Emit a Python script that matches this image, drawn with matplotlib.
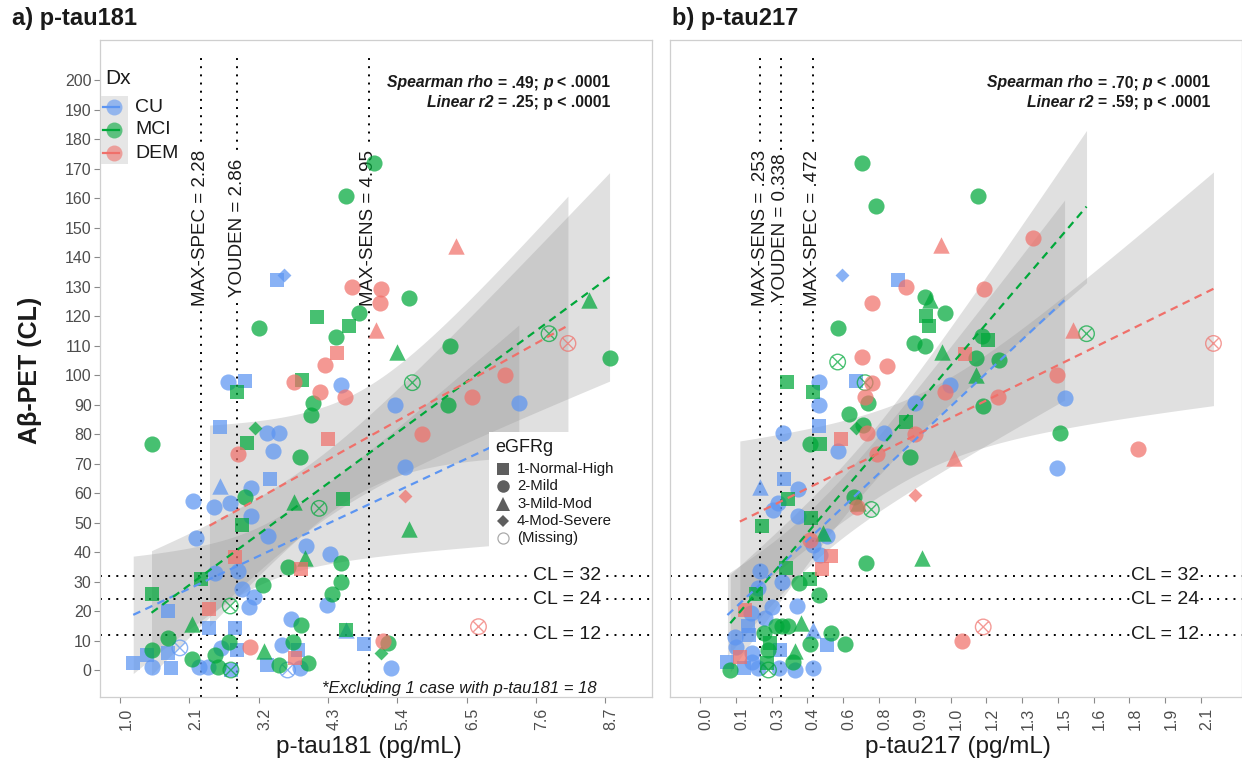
import matplotlib
matplotlib.use("Agg")
import matplotlib.pyplot as plt
import numpy as np
from matplotlib.lines import Line2D
from matplotlib.path import Path
from matplotlib.patches import Rectangle
from matplotlib.transforms import offset_copy, ScaledTranslation

plt.rcParams.update({"font.family": "Liberation Sans"})

# ---------------- data ----------------
CL_TICKS = list(range(0, 201, 10))
CL_CUTS = [12, 24, 32]
GROUPS = ["CU", "MCI", "DEM"]
GROUP_CODES = {"C": "CU", "M": "MCI", "D": "DEM"}
EGFR_LABELS = ["1-Normal-High", "2-Mild", "3-Mild-Mod", "4-Mod-Severe", "(Missing)"]

# panel a) p-tau181
T181_TICKS = [1.0, 2.1, 3.2, 4.3, 5.4, 6.5, 7.6, 8.7]
T181_CUTS = [2.28, 2.86, 4.95]
T181_CUT_LABELS = ["MAX-SPEC = 2.28", "YOUDEN = 2.86", "MAX-SENS = 4.95"]
T181_STATS = (".49", ".25")
t181_x = [5.03, 4.59, 6.33, 3.49, 3.60, 4.69, 5.14, 5.12, 5.58, 4.79,
          4.12, 4.63, 5.06, 3.21, 4.43, 4.44, 4.26, 5.39, 6.24, 8.44,
          7.81, 8.11, 8.77, 2.72, 2.98, 2.86, 3.76, 3.89, 4.18, 4.51,
          4.57, 4.07, 4.03, 5.64, 7.11, 6.58, 6.20, 5.36, 7.33, 5.79,
          2.58, 3.15, 3.34, 3.52, 1.50, 3.02, 4.30, 2.87, 3.43, 3.85,
          5.53, 5.53, 2.58, 3.38, 3.08, 2.98, 2.16, 2.49, 2.75, 3.08,
          3.76, 4.16, 4.54, 5.59, 2.93, 3.35, 2.21, 3.96, 2.82, 3.93,
          4.33, 4.51, 3.66, 3.88, 2.87, 2.51, 2.28, 4.51, 3.27, 2.93,
          4.37, 3.12, 1.51, 4.29, 3.04, 2.75, 2.42, 1.76, 2.14, 3.71,
          3.88, 2.41, 2.82, 4.59, 4.59, 4.88, 5.17, 5.26, 5.14, 5.30,
          1.76, 1.51, 1.43, 1.95, 1.21, 1.51, 1.81, 1.76, 2.14, 2.25,
          2.39, 2.50, 2.61, 2.73, 2.76, 2.55, 2.86, 3.06, 3.28, 3.57,
          3.75, 3.82, 3.78, 3.33, 3.52, 3.85, 3.99, 3.66, 2.76, 6.69]
t181_cl = [172, 160.8, 143.8, 132.2, 133.9, 129.9, 129, 124.3, 126, 120.9,
           119.6, 116.7, 115.3, 116, 113, 107.4, 103.4, 107.9, 110, 125.4,
           114, 110.7, 105.6, 97.7, 97.9, 94.3, 97.5, 98.2, 94.3, 96.6,
           92.4, 90.6, 86.4, 97.4, 100, 92.4, 89.8, 89.8, 90.4, 80,
           82.5, 81.9, 80.2, 80.2, 76.6, 76.9, 78.3, 73.1, 74.2, 72.3,
           68.7, 59, 62.4, 64.6, 61.6, 58.5, 57.3, 55.2, 56.5, 52.2,
           57, 54.8, 57.9, 47.7, 49.2, 45.4, 44.6, 42, 38.4, 37.9,
           39.3, 36.4, 34.8, 34.1, 33.7, 32.8, 30.7, 29.9, 28.8, 27.3,
           25.8, 24.6, 25.8, 22, 21.5, 21.7, 20.6, 19.9, 15.6, 17.2,
           15.3, 14.1, 14.1, 13.4, 13.4, 8.8, 9.9, 9, 5.7, 0.6,
           10.7, 6.8, 5.1, 7.5, 2.3, 1.1, 0.6, 5.7, 3.7, 1.1,
           1.1, 5, 7.3, 9.6, 0, 1, 6.8, 7.9, 6.5, 8.4,
           9.6, 6.8, 4, 1.8, 1.8, 0.6, 2.4, 0, 0, 14.7]
t181_dx = ("M M D C C D D D M M  M M D M M D D M M M  M D M C C M D M D C "
           "D M M M D D M C C D  C M C C M M D D C M  C D C C C M C C C C "
           "M M M M M C C C D M  C M M D C C M M M C  M C M C C M D C M C "
           "M C C M C C D M M C  M M C C C C C C M C  C M C M C M C D M C "
           "M C D C M C M C M D").split()
t181_eg = ("o o ^ s d o o o o o  s s ^ o o s o ^ o ^  x x o o s s o s o o "
           "o o o x o o o o o o  s d o o o s s o o o  o d ^ s o o o o o o "
           "^ x s ^ s o o o s ^  o o o s o o s o o o  o o s o o x s s ^ o "
           "o s s s ^ s o o d o  o o s x s o s s o o  o o o o s o s o ^ o "
           "o s s s o o o x x x").split()

# panel b) p-tau217
T217_TICKS = [0.0, 0.15, 0.30, 0.45, 0.60, 0.75, 0.90, 1.05, 1.20, 1.35,
              1.50, 1.65, 1.80, 1.95, 2.10]
T217_TICK_LABELS = ["0.0", "0.1", "0.3", "0.4", "0.6", "0.8", "0.9", "1.0",
                    "1.2", "1.3", "1.5", "1.6", "1.8", "1.9", "2.1"]
T217_CUTS = [0.253, 0.338, 0.472]
T217_CUT_LABELS = ["MAX-SENS = .253", "YOUDEN = 0.338", "MAX-SPEC = .472"]
T217_STATS = (".70", ".59")
t217_x = [0.677, 0.739, 1.165, 1.01, 1.395, 0.595, 0.83, 0.862, 0.722, 0.944,
          0.962, 1.026, 0.947, 0.96, 0.577, 1.192, 0.895, 0.944, 1.015, 1.11,
          1.18, 1.207, 1.157, 1.252, 0.577, 0.677, 0.785, 1.565, 1.62, 2.152,
          0.366, 0.475, 0.497, 0.497, 0.652, 0.692, 0.722, 0.692, 0.703, 0.625,
          0.682, 0.655, 0.70, 0.77, 0.347, 0.497, 0.592, 0.463, 0.502, 0.58,
          0.862, 0.902, 0.902, 1.027, 1.048, 1.247, 1.185, 1.155, 1.495, 1.528,
          1.507, 1.835, 1.498, 0.742, 0.88, 1.063, 0.902, 0.253, 0.352, 0.41,
          0.37, 0.325, 0.307, 0.412, 0.258, 0.465, 0.647, 0.662, 0.658, 0.718,
          0.517, 0.532, 0.463, 0.472, 0.55, 0.505, 0.695, 0.932, 0.51, 0.25,
          0.362, 0.46, 0.415, 0.343, 0.242, 0.235, 0.497, 0.407, 0.303, 0.187,
          0.273, 0.20, 0.32, 0.345, 0.37, 0.423, 0.475, 0.55, 0.607, 0.532,
          0.46, 0.397, 0.388, 0.475, 0.40, 1.10, 1.187, 0.127, 0.115, 0.183,
          0.22, 0.28, 0.287, 0.292, 0.152, 0.205, 0.145, 0.337, 0.167, 0.22,
          0.242, 0.287, 0.333, 0.268, 0.212]
t217_cl = [172, 157.4, 160.8, 144, 146.3, 133.9, 132.2, 129.9, 124.3, 126.3,
           125.4, 120.9, 120, 116.7, 116, 129, 111, 110, 107.9, 107.2,
           113.2, 112, 105.6, 105, 104.4, 106.2, 103.2, 115.3, 114, 110.7,
           97.7, 94.3, 97.7, 89.8, 97.9, 97.4, 97.2, 92.4, 90.6, 86.7,
           83, 81.9, 80.4, 80.4, 80.2, 82.7, 78.3, 76.6, 76.6, 74.1,
           84.2, 79.9, 90.4, 94.3, 96.6, 92.4, 89.5, 100, 100, 92.1,
           80.2, 74.8, 68.6, 73.2, 72.3, 71.8, 59.3, 62.1, 64.6, 61.2,
           57.9, 56.5, 54.4, 52.2, 48.9, 51.4, 58.5, 56.5, 55.4, 54.4,
           46.5, 45.4, 44.1, 42.5, 38.6, 38.9, 36.4, 38.1, 34.1, 33.7,
           34.5, 30.7, 29.5, 29.8, 27.9, 25.9, 25.4, 21.6, 21.4, 20.3,
           17.5, 14.9, 15, 15, 15, 15.8, 13.7, 12.7, 8.8, 8.5,
           8.8, 6.5, 2.8, 0.6, 0, 10, 14.6, 0, 2.8, 0.6,
           2.8, 2.3, 6.8, 9.2, 7.9, 11.9, 11.3, 6.8, 4.5, 5.7,
           0.6, 0, 0.6, 12.4, 19.4]
t217_dx = ("M M M D D C C D D M  M M M M M D M M M D  M M M M M D D D M D "
           "M M C C C M D D M M  M M D C C C D M M C  M D C D C D M M D C "
           "M D C D M D D C C C  M C C C M M M M D M  M C D C D C M M D C "
           "M M M C C M M C C D  C C M M M M C M M C  M M M C C D D M C C "
           "C M M M C C C C D C  C M C M C").split()
t217_eg = ("o o o ^ o d s o o o  ^ o s s o o o o ^ s  o s o o x o o ^ x x "
           "s s o o s x o o o o  o d o o o s s o s o  s o o o o o o ^ o o "
           "o o o o o ^ d ^ s o  s o o o s s o ^ o x  ^ o o o s o o ^ s o "
           "s s o o o s o o o s  o s o o o ^ ^ o o s  o ^ o o o o x o s s "
           "o s o s o s o s s o  o x o o o").split()

# ---------------- style ----------------
COLORS = {"CU": "#5C95F2", "MCI": "#00A83A", "DEM": "#F0706A"}
TXT = "#1A1A1A"
TICK = "#4D4D4D"
W, H = 1242, 768

_d = np.sqrt(0.5)
OTIMES = Path.make_compound_path(
    Path.unit_circle(),
    Path([(-_d, -_d), (_d, _d), (-_d, _d), (_d, -_d)],
         [Path.MOVETO, Path.LINETO, Path.MOVETO, Path.LINETO]))
MARKERS = {"s": ("s", 105), "o": ("o", 135), "^": ("^", 140),
           "d": ("D", 50), "x": (OTIMES, 125)}


def fx(px):
    return px / W


def fy(py):
    return 1 - py / H


def lm_band(x, y, n=100):
    x = np.asarray(x, float)
    y = np.asarray(y, float)
    b, a = np.polyfit(x, y, 1)
    xs = np.linspace(x.min(), x.max(), n)
    dof = len(x) - 2
    s = np.sqrt(np.sum((y - (a + b * x)) ** 2) / dof)
    sxx = np.sum((x - x.mean()) ** 2)
    se = s * np.sqrt(1 / len(x) + (xs - x.mean()) ** 2 / sxx)
    t = 1.96 + 2.5 / dof
    fit = a + b * xs
    return xs, fit, fit - t * se, fit + t * se


def rich_line(ax, x, y, parts, size=11.3):
    """Right-aligned line made of bold pieces, some italic."""
    fig = ax.figure
    r = fig.canvas.get_renderer()
    gap = 0.28 * size * fig.dpi / 72
    arts = [ax.text(x, y, s, fontsize=size, fontweight="bold",
                    fontstyle="italic" if it else "normal", color=TXT,
                    ha="left", va="baseline", zorder=6) for s, it in parts]
    widths = [t.get_window_extent(r).width for t in arts]
    off = -(sum(widths) + gap * (len(arts) - 1))
    for t, w in zip(arts, widths):
        t.set_transform(offset_copy(ax.transData, fig=fig, x=off, y=0, units="dots"))
        off += w + gap


def draw_panel(ax, xs, cls, dxs, egs, cuts, cut_labels, stats, cl_text_x, stat_frac):
    xs = np.asarray(xs, float)
    cls = np.asarray(cls, float)
    dxs = np.array([GROUP_CODES[d] for d in dxs])
    egs = np.array(egs)

    # regression ribbons
    fits = {}
    for g in GROUPS:
        m = dxs == g
        fits[g] = lm_band(xs[m], cls[m])
        gx, fit, lo, hi = fits[g]
        ax.fill_between(gx, lo, hi, color="#999999", alpha=0.3, lw=0, zorder=1)

    # points
    for g in GROUPS:
        for code, (mk, s) in MARKERS.items():
            m = (dxs == g) & (egs == code)
            if not m.any():
                continue
            if code == "x":
                ax.scatter(xs[m], cls[m], marker=mk, s=s, facecolors="none",
                           edgecolors=COLORS[g], linewidths=1.0, alpha=0.7, zorder=3)
            else:
                ax.scatter(xs[m], cls[m], marker=mk, s=s, color=COLORS[g],
                           linewidths=0, alpha=0.72, zorder=3)

    for g in GROUPS:
        gx, fit, lo, hi = fits[g]
        ax.plot(gx, fit, ls=(0, (3.5, 2.5)), lw=1.6, color=COLORS[g], zorder=4)

    # cut-off lines
    for c, lab in zip(cuts, cut_labels):
        ax.vlines(c, -9.15, 209.5, color="black", ls=(0, (1, 3.2)), lw=1.4, zorder=2)
        ax.text(c, 150, lab, rotation=90, ha="center", va="center", fontsize=13.5,
                color=TXT, zorder=2.5,
                bbox=dict(fc="white", ec="none", pad=1.5))
    for c in CL_CUTS:
        ax.axhline(c, color="black", ls=(0, (1, 3.2)), lw=1.4, zorder=2)
        ax.text(cl_text_x, c, f"CL = {c}", ha="center", va="center", fontsize=14,
                color=TXT, zorder=2.5, bbox=dict(fc="white", ec="none", pad=0.5))

    x0, x1 = ax.get_xlim()
    x_right = x0 + stat_frac * (x1 - x0)
    rich_line(ax, x_right, 197.5, [("Spearman rho", True), (f"= {stats[0]};", False),
                                   ("p", True), ("< .0001", False)])
    rich_line(ax, x_right, 191.0, [("Linear r2", True), (f"= {stats[1]}; p < .0001", False)])

    ax.set_ylim(-9.15, 213.56)
    ax.set_yticks(CL_TICKS)
    for sp in ax.spines.values():
        sp.set_color("#CFCFCF")
        sp.set_linewidth(0.9)
    ax.tick_params(axis="x", labelrotation=90, labelsize=11.5, labelcolor=TICK,
                   color="#8A8A8A", length=4, width=0.8)
    ax.tick_params(axis="y", labelsize=11.5, labelcolor=TICK, color="#8A8A8A",
                   length=4, width=0.8, pad=2)


fig = plt.figure(figsize=(W / 100, H / 100), dpi=100)
ax1 = fig.add_axes([fx(100), fy(697), fx(552), 657 / H])
ax2 = fig.add_axes([fx(670), fy(697), fx(572), 657 / H])

ax1.set_xlim(0.6825, 9.444)
ax2.set_xlim(-0.1257, 2.2716)
fig.canvas.draw()

draw_panel(ax1, t181_x, t181_cl, t181_dx, t181_eg, T181_CUTS, T181_CUT_LABELS,
           T181_STATS, 8.1, 0.924)
draw_panel(ax2, t217_x, t217_cl, t217_dx, t217_eg, T217_CUTS, T217_CUT_LABELS,
           T217_STATS, 1.95, 0.944)

ax1.set_xticks(T181_TICKS)
ax1.set_xticklabels([f"{v:.1f}" for v in T181_TICKS])
ax2.set_xticks(T217_TICKS)
ax2.set_xticklabels(T217_TICK_LABELS)
ax2.set_yticklabels([])
ax2.tick_params(axis="y", length=0)
shift = ScaledTranslation(6 / 100, 0, fig.dpi_scale_trans)
for ax in (ax1, ax2):
    for lab in ax.get_xticklabels():
        lab.set_transform(lab.get_transform() + shift)

ax1.text(8.57, -6.3, "*Excluding 1 case with p-tau181 = 18", ha="right", va="center",
         fontsize=12, fontstyle="italic", color=TXT, zorder=6)

# titles and axis labels
fig.text(fx(12), fy(18), "a) p-tau181", fontsize=17, fontweight="bold", va="center", color=TXT)
fig.text(fx(672), fy(18), "b) p-tau217", fontsize=17, fontweight="bold", va="center", color=TXT)
fig.text(fx(30), fy(370), "A\u03b2-PET (CL)", fontsize=18, fontweight="bold", rotation=90,
         ha="center", va="center", color=TXT)
fig.text(fx(369), fy(747), "p-tau181 (pg/mL)", fontsize=17.5, ha="center", va="center", color=TXT)
fig.text(fx(958), fy(747), "p-tau217 (pg/mL)", fontsize=17.5, ha="center", va="center", color=TXT)

# Dx legend
fig.text(fx(105), fy(78), "Dx", fontsize=15, va="center", color=TXT)
fig.add_artist(Rectangle((fx(101), fy(164)), fx(27), 68 / H, transform=fig.transFigure,
                         fc="#E6E6E6", ec="none", zorder=5))
for i, g in enumerate(GROUPS):
    yy = 107 + 23 * i
    fig.add_artist(Line2D([fx(103), fx(119)], [fy(yy), fy(yy)], transform=fig.transFigure,
                          color=COLORS[g], lw=1.6, zorder=6))
    fig.add_artist(Line2D([fx(114)], [fy(yy)], transform=fig.transFigure, marker="o",
                          ms=11.5, color=COLORS[g], alpha=0.6, mew=0, ls="none", zorder=6))
    fig.text(fx(135), fy(yy), g, fontsize=14, va="center", color=TXT)

# eGFRg legend
fig.add_artist(Rectangle((fx(489), fy(553)), fx(150), 121 / H, transform=fig.transFigure,
                         fc="white", ec="none", zorder=5))
fig.text(fx(495), fy(447), "eGFRg", fontsize=13, va="center", color=TXT, zorder=6)
for i, (code, lab) in enumerate(zip(["s", "o", "^", "d", "x"], EGFR_LABELS)):
    yy = 469 + 17.3 * i
    if code == "x":
        fig.add_artist(Line2D([fx(503)], [fy(yy)], transform=fig.transFigure, marker="o",
                              ms=8, mfc="none", mec="#AAAAAA", mew=0.9, ls="none", zorder=6))
    else:
        mk = {"s": "s", "o": "o", "^": "^", "d": "D"}[code]
        ms = {"s": 8.5, "o": 9, "^": 9.5, "d": 6}[code]
        fig.add_artist(Line2D([fx(503)], [fy(yy)], transform=fig.transFigure, marker=mk,
                              ms=ms, color="#5E5E5E", mew=0, ls="none", zorder=6))
    fig.text(fx(517), fy(yy), lab, fontsize=10.8, va="center", color=TXT, zorder=6)

fig.savefig("out.png", dpi=100)
